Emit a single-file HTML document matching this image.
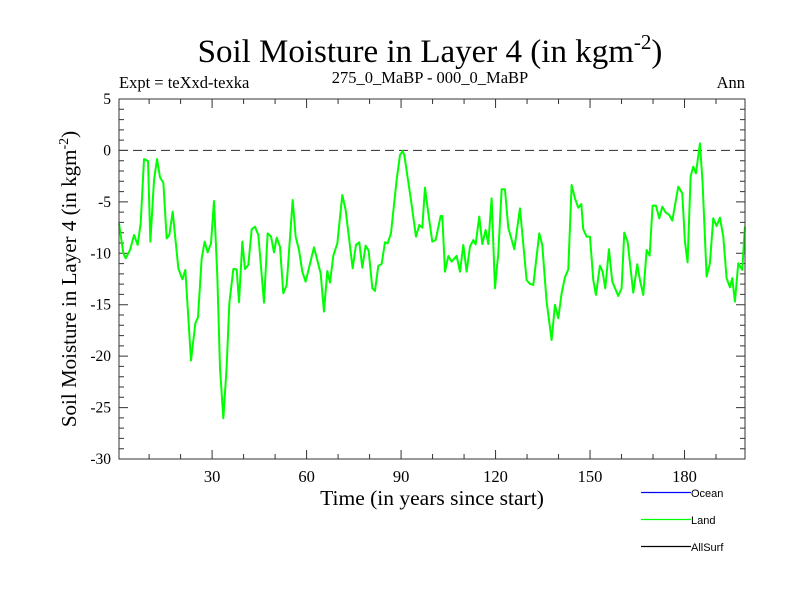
<!DOCTYPE html>
<html><head><meta charset="utf-8"><style>body{margin:0;background:#fff}svg{display:block}</style></head>
<body>
<svg id="chart" width="800" height="600" xmlns="http://www.w3.org/2000/svg" font-family="Liberation Serif, serif">
<text x="430" y="62" font-size="33" text-anchor="middle">Soil Moisture in Layer 4 (in kgm<tspan font-size="21" dy="-13">-2</tspan><tspan dy="13">)</tspan></text>
<text x="119" y="88" font-size="16.5">Expt = teXxd-texka</text>
<text x="430" y="83" font-size="16.5" text-anchor="middle">275_0_MaBP - 000_0_MaBP</text>
<text x="745" y="88" font-size="16.5" text-anchor="end">Ann</text>
<g id="ax"></g>
<text x="432" y="505" font-size="21.5" text-anchor="middle">Time (in years since start)</text>
<text transform="translate(76,279) rotate(-90)" font-size="21" text-anchor="middle">Soil Moisture in Layer 4 (in kgm<tspan font-size="14" dy="-8">-2</tspan><tspan dy="8">)</tspan></text>
<g font-family="Liberation Sans, sans-serif" font-size="11">
<line x1="641" y1="492.5" x2="691" y2="492.5" stroke="#0000ff" stroke-width="1.3"/>
<text x="691" y="497">Ocean</text>
<line x1="641" y1="519.5" x2="691" y2="519.5" stroke="#00ff00" stroke-width="1.3"/>
<text x="691" y="524">Land</text>
<line x1="641" y1="546.5" x2="691" y2="546.5" stroke="#000" stroke-width="1.3"/>
<text x="691" y="551">AllSurf</text>
</g>
</svg>
<script>
const years=[0.44,1.82,2.56,3.94,5.21,6.37,7.32,8.38,9.65,10.39,11.56,12.51,13.46,14.52,15.58,16.42,17.48,19.28,20.55,21.5,23.3,24.68,25.52,26.69,27.64,28.59,29.65,30.6,31.66,32.51,33.57,34.62,35.47,36.74,37.8,38.54,39.6,40.44,41.5,42.56,43.62,44.68,46.48,47.64,48.7,49.65,50.5,51.56,52.61,53.67,55.58,56.53,57.59,58.64,59.7,62.35,64.47,65.52,66.58,67.43,68.49,69.76,71.34,72.4,74.63,75.68,76.74,77.69,78.75,79.7,80.87,81.71,82.77,83.83,84.89,85.74,86.79,88.59,89.65,90.5,91.03,93.14,94.73,95.79,96.74,97.59,98.65,99.91,100.97,102.56,103.09,103.94,105.0,106.05,107.64,108.7,109.76,110.82,111.87,112.93,113.67,114.83,115.79,116.85,117.69,118.75,119.81,120.87,121.93,122.98,124.04,125.95,127.75,129.86,130.92,131.98,133.88,134.83,136.21,137.8,138.86,139.92,140.97,142.03,143.09,144.15,145.21,146.26,147.22,147.85,148.91,149.97,151.03,151.87,153.14,153.99,154.83,156.0,157.06,158.96,160.02,160.87,161.93,163.72,164.99,165.84,166.9,167.96,168.91,169.86,170.92,171.98,172.93,173.99,175.15,176.11,178.01,179.28,180.13,180.97,181.93,182.77,183.62,184.89,185.74,187.01,188.06,189.12,190.18,191.24,192.3,193.36,194.41,195.15,196.0,197.06,198.33,199.17];
const landValues=[-7.09,-10.0,-10.49,-9.68,-8.22,-9.19,-7.09,-0.84,-1.03,-8.87,-2.88,-0.84,-2.62,-3.14,-8.55,-8.22,-5.95,-11.46,-12.53,-11.62,-20.43,-16.81,-16.22,-10.49,-8.87,-9.91,-9.03,-4.92,-12.27,-21.18,-26.04,-21.02,-14.86,-11.53,-11.56,-14.76,-8.87,-11.53,-11.14,-7.67,-7.41,-8.22,-14.8,-8.06,-8.38,-9.91,-8.48,-9.36,-13.89,-13.08,-4.82,-8.38,-9.68,-11.79,-12.76,-9.42,-11.95,-15.67,-11.72,-12.85,-10.23,-9.03,-4.33,-5.79,-11.46,-9.19,-8.93,-11.4,-9.26,-9.74,-13.4,-13.66,-11.23,-11.04,-8.93,-9.03,-8.06,-2.88,-0.45,-0.06,-0.45,-4.82,-8.38,-7.25,-7.51,-3.62,-6.12,-8.87,-8.71,-6.38,-6.38,-11.79,-10.26,-10.81,-10.26,-11.79,-9.19,-11.79,-9.36,-8.71,-9.13,-6.44,-9.1,-7.74,-9.1,-4.66,-13.4,-10.0,-3.78,-3.78,-7.51,-9.61,-5.63,-12.6,-12.98,-13.08,-8.06,-9.19,-14.7,-18.43,-15.02,-16.32,-13.89,-12.34,-11.56,-3.36,-4.66,-5.57,-5.21,-7.67,-8.38,-8.38,-12.6,-14.05,-11.2,-11.79,-13.4,-9.61,-12.76,-14.15,-13.4,-7.99,-8.87,-13.83,-11.07,-12.6,-14.05,-9.68,-10.23,-5.37,-5.37,-6.6,-5.47,-6.02,-6.28,-6.83,-3.52,-4.17,-8.87,-10.88,-2.55,-1.58,-2.23,0.69,-3.2,-12.27,-10.97,-6.6,-7.35,-6.54,-8.38,-12.43,-13.31,-12.43,-14.7,-10.97,-11.62,-7.41];
const xTicks=[30,60,90,120,150,180];
const yTicks=[5,0,-5,-10,-15,-20,-25,-30];
const L=119,R=745,T=99,B=459,X0=0.44,X1=199.2,Y0=-30,Y1=5;
const xs=v=>L+(v-X0)/(X1-X0)*(R-L);
const ys=v=>B-(v-Y0)/(Y1-Y0)*(B-T);
const NS="http://www.w3.org/2000/svg";
const g=document.getElementById('ax');
function mk(t,a){const e=document.createElementNS(NS,t);for(const k in a)e.setAttribute(k,a[k]);g.appendChild(e);return e;}
let d='';
for(let v=10;v<X1;v+=10){const x=xs(v),len=(v%30===0)?9:5;d+=`M${x},${B}v${-len}M${x},${T}v${len}`;}
for(let v=Y0;v<=Y1;v+=1){const y=ys(v),len=(v%5===0)?9:5;d+=`M${L},${y}h${len}M${R},${y}h${-len}`;}
const tk=mk('path',{d:d,stroke:'#333','stroke-width':1,fill:'none'});


const zl=mk('line',{x1:L,x2:R,y1:ys(0),y2:ys(0),stroke:'#444','stroke-width':1.2,'stroke-dasharray':'9,5'});


let p='';years.forEach((yr,i)=>{p+=(i?'L':'M')+xs(yr).toFixed(2)+','+ys(landValues[i]).toFixed(2);});
const ln=mk('path',{d:p,stroke:'#00ff00','stroke-width':2,fill:'none','stroke-linejoin':'round'});


const fr=mk('rect',{x:L,y:T,width:R-L,height:B-T,fill:'none',stroke:'#333','stroke-width':1});


xTicks.forEach(v=>{const t=mk('text',{x:xs(v),y:B+23,'font-size':16.5,'text-anchor':'middle'});t.textContent=v;

});
yTicks.forEach(v=>{const t=mk('text',{x:L-8,y:ys(v)+5,'font-size':15.5,'text-anchor':'end'});t.textContent=v;

});
</script>
</body></html>
